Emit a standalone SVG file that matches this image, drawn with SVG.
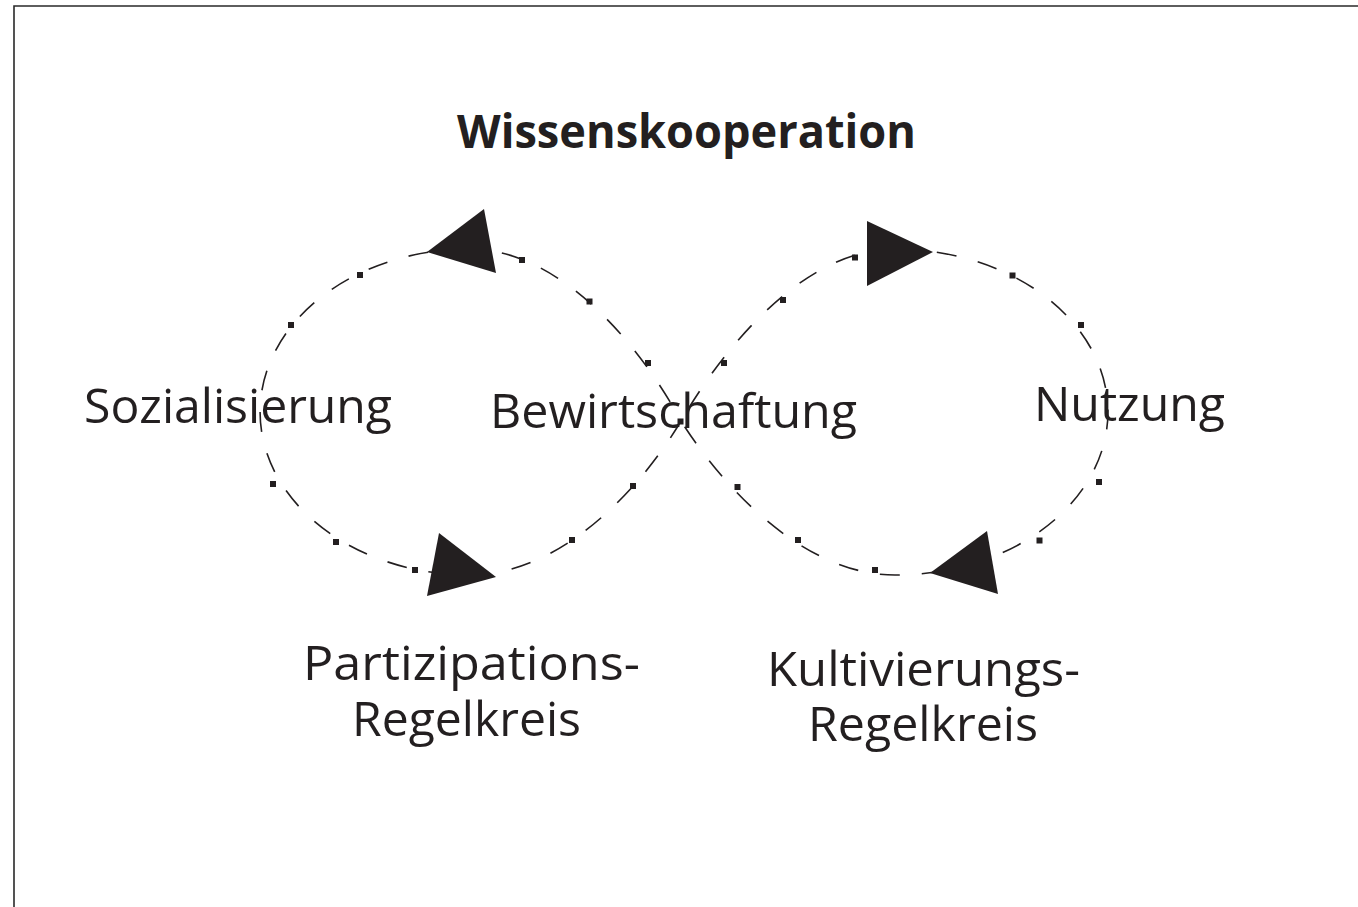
<svg xmlns="http://www.w3.org/2000/svg" width="1358" height="907" viewBox="0 0 1358 907">
<style>
.frame{fill:none;stroke:#2a2a2a;stroke-width:1.6}
.loop{fill:none;stroke:#231f20;stroke-width:1.6;stroke-dasharray:20 22}
.sq{fill:#231f20}
.arr{fill:#231f20}
text{font-family:"Open Sans","Liberation Sans",sans-serif;fill:#231f20;font-size:48px}
.title{font-weight:bold;font-size:46px}
</style>
<rect width="1358" height="907" fill="#ffffff"/>
<path class="frame" d="M14 907 V6 H1358"/>
<g id="connectors">
<path class="loop" d="M470 249 A210 163 0 0 0 470 575 C560 575 640 490 681 421 C640 345 560 249 470 249 Z"/>
<path class="loop" d="M895 249 A213 163 0 0 1 895 575 C805 575 725 490 681 421 C725 345 805 249 895 249 Z"/>
<g class="sq">
<rect x="357" y="272" width="6" height="6"/>
<rect x="288" y="322" width="6" height="6"/>
<rect x="270" y="481" width="6" height="6"/>
<rect x="333" y="539" width="6" height="6"/>
<rect x="412" y="567" width="6" height="6"/>
<rect x="519" y="257" width="6" height="6"/>
<rect x="586.5" y="298.5" width="6" height="6"/>
<rect x="645" y="360" width="6" height="6"/>
<rect x="630" y="483" width="6" height="6"/>
<rect x="569" y="537" width="6" height="6"/>
<rect x="852" y="254.5" width="6" height="6"/>
<rect x="780" y="297" width="6" height="6"/>
<rect x="721" y="360" width="6" height="6"/>
<rect x="1009.5" y="272.5" width="6" height="6"/>
<rect x="1078" y="322" width="6" height="6"/>
<rect x="1096" y="479" width="6" height="6"/>
<rect x="1036.5" y="537.5" width="6" height="6"/>
<rect x="872" y="567" width="6" height="6"/>
<rect x="795" y="537" width="6" height="6"/>
<rect x="734.5" y="484" width="6" height="6"/>
<rect x="677.5" y="418.5" width="6" height="6"/>
</g>
<polygon class="arr" points="427,252 484,209 496,273"/>
<polygon class="arr" points="439,533 496,577 427,596"/>
<polygon class="arr" points="867,221 933,252 867,286"/>
<polygon class="arr" points="987,531 998,594 930,573"/>
</g>
<g id="title"><text class="title" x="457" y="148" textLength="459" lengthAdjust="spacingAndGlyphs">Wissenskooperation</text></g>
<g id="sozialisierung"><text x="84" y="423" textLength="308" lengthAdjust="spacingAndGlyphs">Sozialisierung</text></g>
<g id="bewirtschaftung"><text x="490" y="428" textLength="367" lengthAdjust="spacingAndGlyphs">Bewirtschaftung</text></g>
<g id="nutzung"><text x="1034" y="421" textLength="191" lengthAdjust="spacingAndGlyphs">Nutzung</text></g>
<g id="partizipation"><text><tspan x="303" y="680" textLength="337" lengthAdjust="spacingAndGlyphs">Partizipations-</tspan><tspan x="352" y="736" textLength="229" lengthAdjust="spacingAndGlyphs">Regelkreis</tspan></text></g>
<g id="kultivierung"><text><tspan x="767" y="686" textLength="313" lengthAdjust="spacingAndGlyphs">Kultivierungs-</tspan><tspan x="808" y="741" textLength="230" lengthAdjust="spacingAndGlyphs">Regelkreis</tspan></text></g>
</svg>
